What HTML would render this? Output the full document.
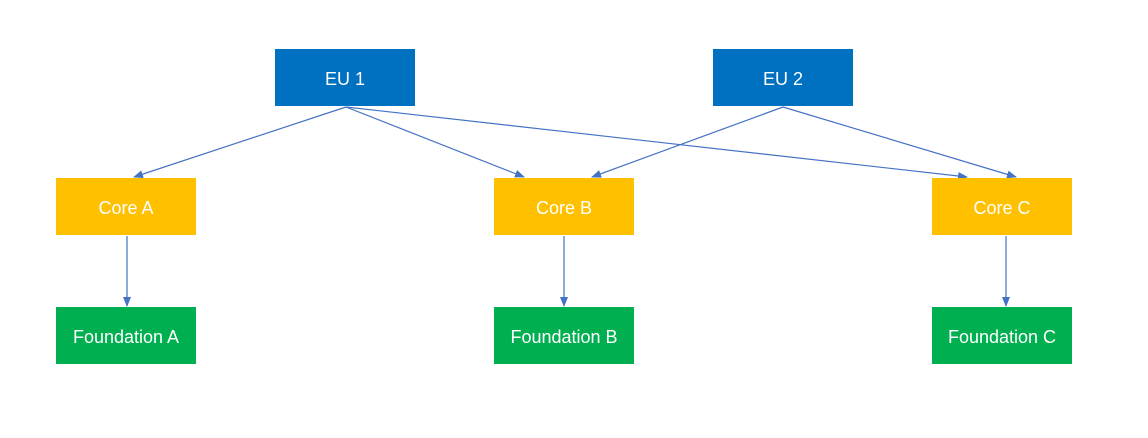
<!DOCTYPE html>
<html><head><style>
html,body{margin:0;padding:0;background:#fff;}
.b{position:absolute;width:140px;height:57px;color:#fff;font-family:"Liberation Sans",sans-serif;font-size:18px;display:flex;align-items:center;justify-content:center;box-sizing:border-box;padding-top:3px;}
.eu{background:#0070c0}.co{background:#ffc000}.fo{background:#00b050}
</style></head><body>
<div style="position:relative;width:1148px;height:438px;overflow:hidden">
<svg width="1148" height="438" style="position:absolute;left:0;top:0">
<defs><marker id="a" markerWidth="10" markerHeight="8" refX="9" refY="4" orient="auto" markerUnits="userSpaceOnUse"><path d="M0,0 L10,4 L0,8 z" fill="#4472c4"/></marker></defs>
<g stroke="#4472c4" stroke-width="1.2" fill="none" marker-end="url(#a)">
<line x1="346" y1="107" x2="134" y2="177"/>
<line x1="346" y1="107" x2="524" y2="177"/>
<line x1="346" y1="107" x2="967" y2="177"/>
<line x1="783" y1="107" x2="592" y2="177"/>
<line x1="783" y1="107" x2="1016" y2="177"/>
<line x1="127" y1="236" x2="127" y2="306"/>
<line x1="564" y1="236" x2="564" y2="306"/>
<line x1="1006" y1="236" x2="1006" y2="306"/>
</g></svg>
<div class="b eu" style="left:275px;top:49px">EU 1</div>
<div class="b eu" style="left:713px;top:49px">EU 2</div>
<div class="b co" style="left:56px;top:178px">Core A</div>
<div class="b co" style="left:494px;top:178px">Core B</div>
<div class="b co" style="left:932px;top:178px">Core C</div>
<div class="b fo" style="left:56px;top:307px">Foundation A</div>
<div class="b fo" style="left:494px;top:307px">Foundation B</div>
<div class="b fo" style="left:932px;top:307px">Foundation C</div>
</div>
</body></html>
